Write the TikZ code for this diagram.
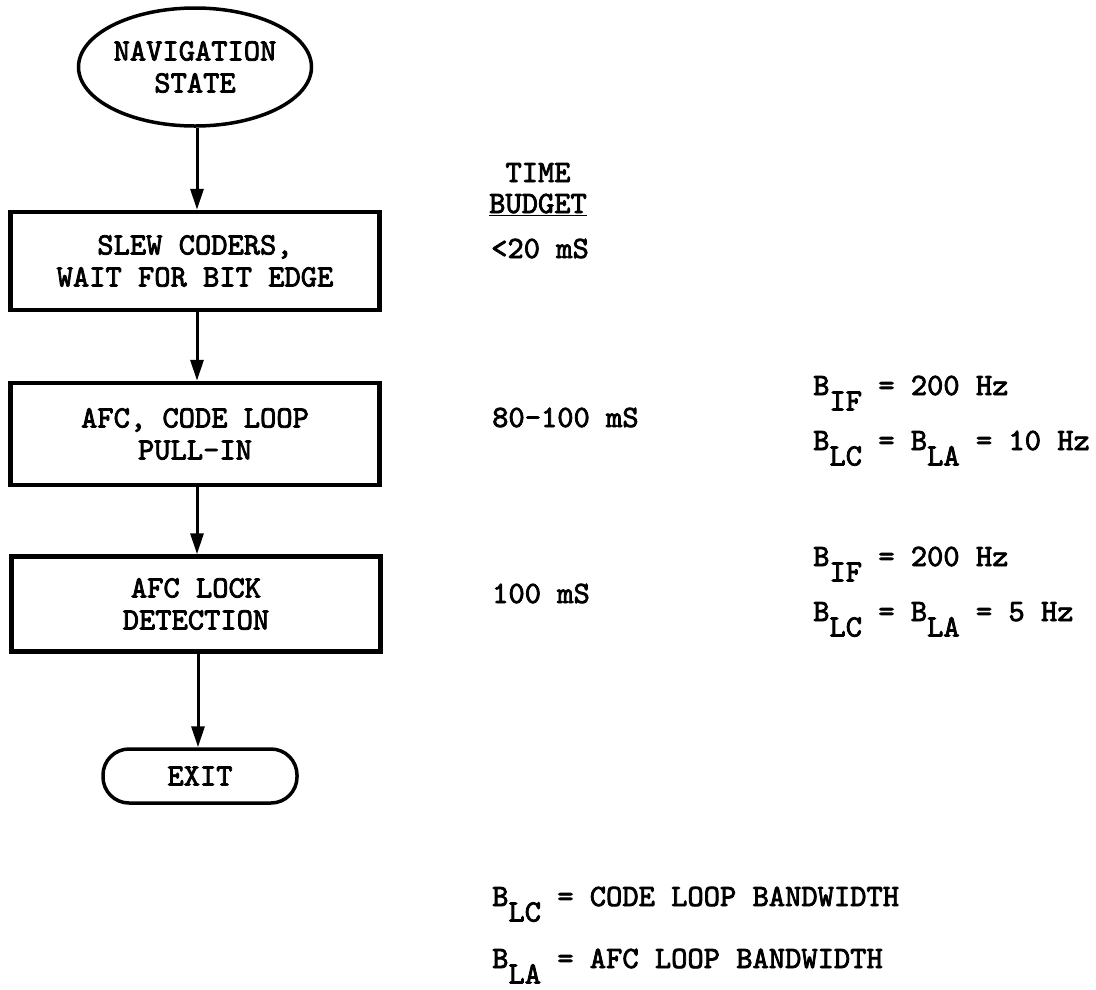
\documentclass[tikz,border=0pt]{standalone}
\usepackage{fontspec}
\newfontfamily\typer{lmmono10-regular.otf}[BoldFont=lmmono10-regular.otf, BoldFeatures={FakeBold=2.5}]
\usetikzlibrary{arrows.meta,positioning,shapes.geometric}
% subscript as printed: same size, dropped below the line
\newcommand{\bsub}[1]{B\raisebox{-0.5em}{#1}}

\begin{document}
\begin{tikzpicture}[
  x=1pt, y=-1pt,
  every node/.style={font=\typer\bfseries\fontsize{31}{32}\selectfont, inner sep=0pt},
  box/.style={draw, line width=4.5pt, minimum width=369pt, align=center},
  state/.style={draw, ellipse, line width=3.5pt, minimum width=233pt, minimum height=118pt, align=center},
  term/.style={draw, rounded corners=26pt, line width=3.5pt, minimum width=194pt, minimum height=54pt},
  arrow/.style={-{Triangle[length=21pt,width=13pt]}, line width=3pt},
  note/.style={anchor=base west},
]
\useasboundingbox (0,0) rectangle (1096,989);

% flow
\node[state] (nav) at (195,67) {NAVIGATION\\STATE};
\node[box, minimum height=98pt] (slew) at (195,261) {SLEW CODERS,\\WAIT FOR BIT EDGE};
\node[box, minimum height=102pt] (pull) at (195,434) {AFC, CODE LOOP\\PULL-IN};
\node[box, minimum height=95pt] (lock) at (196,604) {AFC LOCK\\DETECTION};
\node[term] (exit) at (200,776) {EXIT};

\draw[arrow] (nav.south -| 197,0) -- (slew.north -| 197,0);
\draw[arrow] (slew.south -| 197,0) -- (pull.north -| 197,0);
\draw[arrow] (pull.south -| 197,0) -- (lock.north -| 197,0);
\draw[arrow] (lock.south -| 198,0) -- (exit.north -| 198,0);

% time budget
\node[anchor=base] (time) at (538,182) {TIME};
\node[anchor=base] (budget) at (538,213) {\underline{BUDGET}};
\node[note] (t1) at (491,258) {<20 mS};
\node[note] (t2) at (492,427) {80-100 mS};
\node[note] (t3) at (492,603) {100 mS};

% bandwidths
\node[note] (bw1) at (813,395) {\bsub{IF} = 200 Hz};
\node[note] (bw2) at (813,450) {\bsub{LC} = \bsub{LA} = 10 Hz};
\node[note] (bw3) at (813,566) {\bsub{IF} = 200 Hz};
\node[note] (bw4) at (813,621) {\bsub{LC} = \bsub{LA} = 5 Hz};

% legend
\node[note] (leg1) at (492,906) {\bsub{LC} = CODE LOOP BANDWIDTH};
\node[note] (leg2) at (492,968) {\bsub{LA} = AFC LOOP BANDWIDTH};

\end{tikzpicture}
\end{document}
